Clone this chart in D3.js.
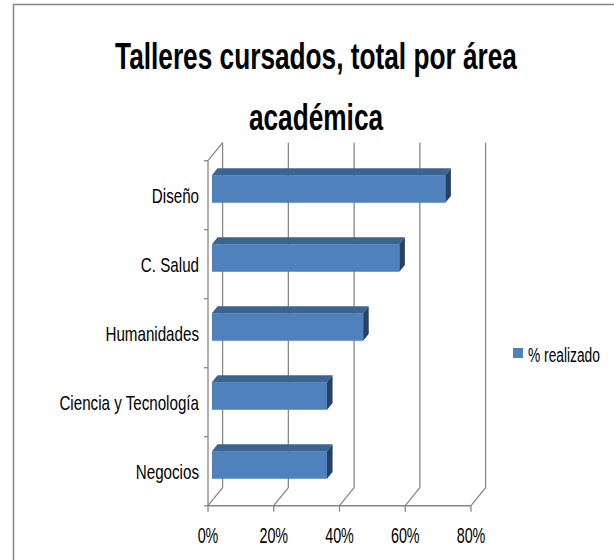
<!DOCTYPE html>
<html>
<head>
<meta charset="utf-8">
<script src="https://cdn.jsdelivr.net/npm/d3@7"></script>
<style>
    body { margin: 0; background: #fff; }
    svg { display: block; }
    text { font-family: 'Liberation Sans', Arial, sans-serif; fill: #000; }
</style>
</head>
<body>
<svg width="614" height="560"></svg>
<script>
// data
const titleLines = ['Talleres cursados, total por área', 'académica'];
const categories = ['Diseño', 'C. Salud', 'Humanidades', 'Ciencia y Tecnología', 'Negocios'];
const values = [71, 57, 46, 35, 35];
const xTicks = [0, 20, 40, 60, 80];
const seriesName = '% realizado';

// narrow look: no condensed font installed, so squeeze glyphs horizontally
const NARROW = 0.82;

const render = () => {
    const svg = d3.select('svg');
    const margin = { top: 160.7, left: 208, right: 143, bottom: 54.3 };
    const width = +svg.attr('width');
    const height = +svg.attr('height');
    const plotBottom = height - margin.bottom;
    const plotRight = width - margin.right;

    // oblique depth of the 3D box
    const DX = 14.6, DY = -18;
    const z1 = 0.27, z2 = 0.65;

    const xScale = d3.scaleLinear().domain([0, 80]).range([margin.left, plotRight]);
    const yScale = d3.scaleBand().domain(categories).range([margin.top, plotBottom]);
    const bw = yScale.bandwidth();
    const grid = '#868686';

    // outer frame
    svg.append('rect')
        .attr('x', 13.5).attr('y', 4.5)
        .attr('width', 700).attr('height', 700)
        .attr('fill', 'none').attr('stroke', grid).attr('stroke-width', 1.5);

    // title
    titleLines.forEach((t, i) => {
        svg.append('text')
            .attr('transform', `translate(316,${69 + i * 61}) scale(${NARROW},1.13)`)
            .attr('text-anchor', 'middle')
            .style('font-size', '32px')
            .style('font-weight', 'bold')
            .text(t);
    });

    const g = svg.append('g');

    // back wall gridlines
    g.selectAll('.grid').data(xTicks).enter().append('line')
        .attr('x1', d => xScale(d) + DX).attr('x2', d => xScale(d) + DX)
        .attr('y1', margin.top + DY).attr('y2', plotBottom + DY)
        .attr('stroke', grid).attr('stroke-width', 1.3);

    // floor diagonals
    g.selectAll('.floor').data(xTicks).enter().append('line')
        .attr('x1', d => xScale(d)).attr('x2', d => xScale(d) + DX)
        .attr('y1', plotBottom).attr('y2', plotBottom + DY)
        .attr('stroke', grid).attr('stroke-width', 1.3);

    // left wall top edge
    g.append('line')
        .attr('x1', xScale(0)).attr('x2', xScale(0) + DX)
        .attr('y1', margin.top).attr('y2', margin.top + DY)
        .attr('stroke', grid).attr('stroke-width', 1.3);

    // bars
    const bars = g.selectAll('.bar').data(categories.map((c, i) => ({ c, v: values[i] })))
        .enter().append('g').attr('class', 'bar');

    const fx0 = () => xScale(0) + z1 * DX;
    const fx1 = d => xScale(d.v) + z1 * DX;
    const fyT = d => yScale(d.c) + bw * 0.28 + z1 * DY;
    const fyB = d => fyT(d) + bw * 0.4;
    const ddx = (z2 - z1) * DX, ddy = (z2 - z1) * DY;

    bars.append('rect')
        .attr('x', fx0)
        .attr('y', fyT)
        .attr('width', d => fx1(d) - fx0())
        .attr('height', bw * 0.4)
        .attr('fill', '#4f81bd');

    bars.append('path')
        .attr('d', d => `M${fx0()},${fyT(d)}L${fx1(d)},${fyT(d)}L${fx1(d) + ddx},${fyT(d) + ddy}L${fx0() + ddx},${fyT(d) + ddy}Z`)
        .attr('fill', '#3c6491');

    bars.append('path')
        .attr('d', d => `M${fx1(d)},${fyT(d)}L${fx1(d) + ddx},${fyT(d) + ddy}L${fx1(d) + ddx},${fyB(d) + ddy}L${fx1(d)},${fyB(d)}Z`)
        .attr('fill', '#27415f');

    // front axes
    g.append('line')
        .attr('x1', xScale(0)).attr('x2', xScale(0))
        .attr('y1', margin.top).attr('y2', plotBottom)
        .attr('stroke', grid).attr('stroke-width', 1.3);
    g.append('line')
        .attr('x1', xScale(0)).attr('x2', xScale(80))
        .attr('y1', plotBottom).attr('y2', plotBottom)
        .attr('stroke', grid).attr('stroke-width', 1.5);

    // category ticks
    const bounds = categories.map(c => yScale(c)).concat([plotBottom]);
    g.selectAll('.ytick').data(bounds).enter().append('line')
        .attr('x1', xScale(0) - 4).attr('x2', xScale(0))
        .attr('y1', d => d).attr('y2', d => d)
        .attr('stroke', grid).attr('stroke-width', 1.3);

    // value ticks
    g.selectAll('.xtick').data(xTicks).enter().append('line')
        .attr('x1', d => xScale(d)).attr('x2', d => xScale(d))
        .attr('y1', plotBottom).attr('y2', plotBottom + 6)
        .attr('stroke', grid).attr('stroke-width', 1.3);

    // labels
    g.selectAll('.xlabel').data(xTicks).enter().append('text')
        .attr('transform', d => `translate(${xScale(d)},543) scale(${NARROW},1.3)`)
        .attr('text-anchor', 'middle')
        .style('font-size', '17.5px')
        .text(d => d + '%');

    g.selectAll('.ylabel').data(categories).enter().append('text')
        .attr('transform', d => `translate(199,${yScale(d) + bw / 2 + 8}) scale(${NARROW},1.13)`)
        .attr('text-anchor', 'end')
        .style('font-size', '18.5px')
        .text(d => d);

    // legend
    const legend = svg.append('g').attr('transform', 'translate(513,348)');
    legend.append('rect').attr('width', 10).attr('height', 10).attr('fill', '#4f81bd');
    legend.append('text')
        .attr('transform', `translate(15,14) scale(${NARROW},1.15)`)
        .style('font-size', '16.8px')
        .text(seriesName);
};

render();
</script>
</body>
</html>
